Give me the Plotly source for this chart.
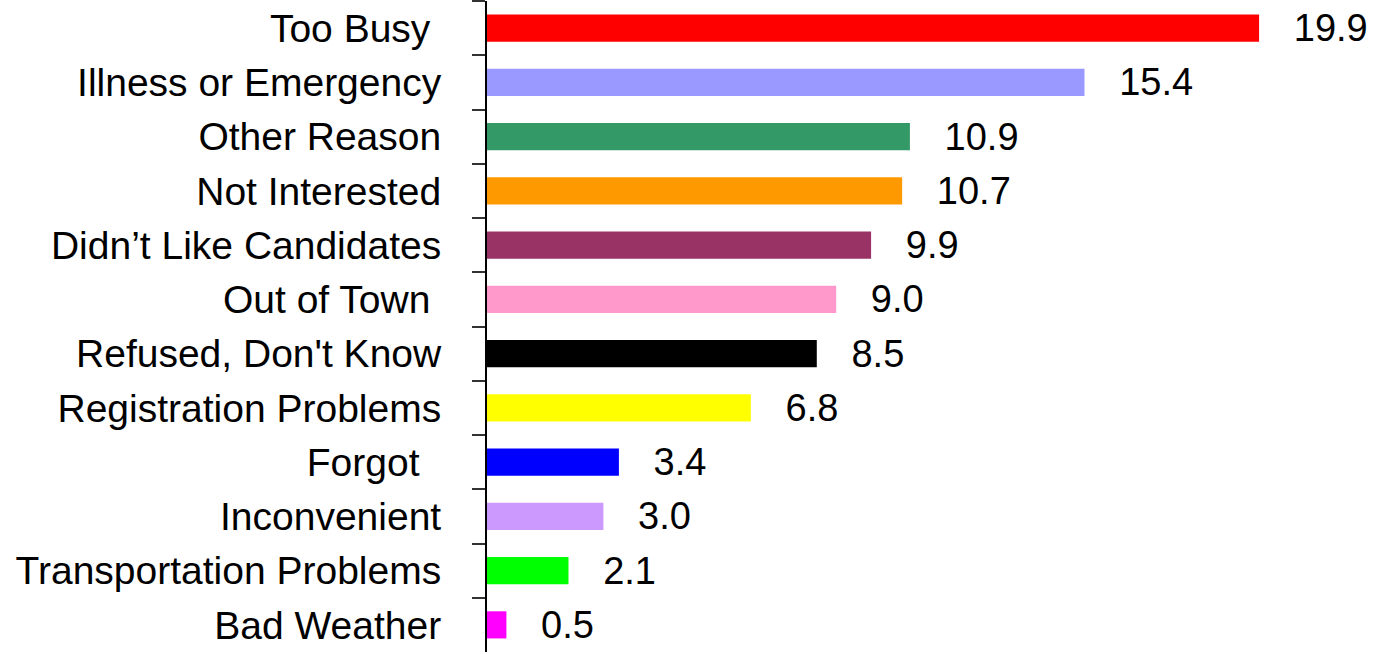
import plotly.graph_objects as go

categories = ["Too Busy\u00a0", "Illness or Emergency", "Other Reason", "Not Interested",
              "Didn\u2019t Like Candidates", "Out of Town\u00a0", "Refused, Don't Know",
              "Registration Problems", "Forgot\u00a0\u00a0", "Inconvenient",
              "Transportation Problems", "Bad Weather"]
values = [19.9, 15.4, 10.9, 10.7, 9.9, 9.0, 8.5, 6.8, 3.4, 3.0, 2.1, 0.5]
colors = ["#FF0000", "#9999FF", "#339966", "#FF9900", "#993366", "#FF99CC",
          "#000000", "#FFFF00", "#0000FF", "#CC99FF", "#00FF00", "#FF00FF"]

fig = go.Figure(go.Bar(
    x=values, y=categories, orientation="h",
    marker=dict(color=colors, line=dict(width=0)),
    text=[f"{v:.1f}" for v in values],
    texttemplate="\u00a0\u00a0\u00a0%{text}",
    textposition="outside", constraintext="none", cliponaxis=False,
    textfont=dict(family="Liberation Sans, Arial, sans-serif", size=38, color="#000000"),
))

fig.update_layout(
    width=1391, height=654,
    margin=dict(l=487, r=0, t=1, b=2),
    paper_bgcolor="white", plot_bgcolor="white",
    bargap=0.5, showlegend=False,
    font=dict(family="Liberation Sans, Arial, sans-serif", color="#000000"),
)
fig.update_xaxes(range=[0, 23.3], visible=False, showgrid=False, zeroline=False)
fig.update_yaxes(
    autorange="reversed", showgrid=False, zeroline=False,
    showline=True, linecolor="#000000", linewidth=2,
    ticks="outside", ticklen=13, tickwidth=1.5, tickcolor="#333333",
    tickson="boundaries", ticklabelstandoff=36,
    tickfont=dict(family="Liberation Sans, Arial, sans-serif", size=39, color="#000000"),
)

fig.write_html("out.html")
